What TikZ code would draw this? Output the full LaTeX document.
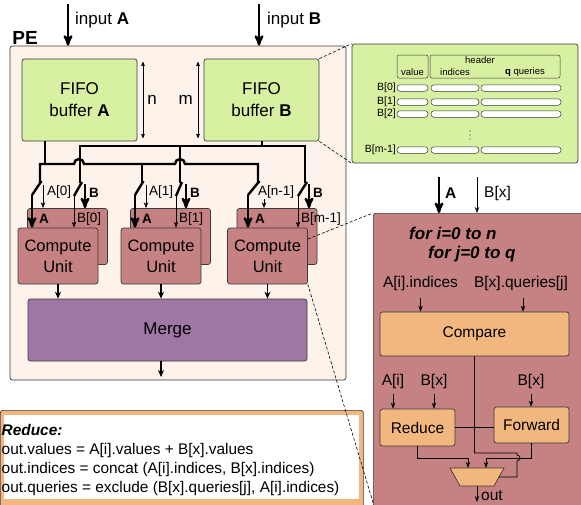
\documentclass[tikz,border=0pt]{standalone}
\usepackage{fontspec}
\setmainfont{Liberation Sans}
\usetikzlibrary{positioning,arrows,arrows.meta}

\definecolor{peback}{HTML}{FDF3EA}
\definecolor{fifogreen}{HTML}{D7F0A2}
\definecolor{cured}{HTML}{C68282}
\definecolor{mergepurple}{HTML}{9E77A5}
\definecolor{oporange}{HTML}{F1B77E}
\definecolor{edgegray}{HTML}{3A3A3A}

\tikzset{
  box/.style={draw=edgegray, rounded corners=2.5pt, line width=0.7pt, inner sep=0pt, align=center},
  fifo/.style={box, fill=fifogreen, minimum width=115pt, minimum height=82pt, font=\fontsize{17}{22}\selectfont},
  cubox/.style={box, fill=cured, minimum width=80pt, minimum height=56pt, font=\fontsize{16.5}{21}\selectfont},
  opbox/.style={box, fill=oporange, font=\fontsize{15.5}{18}\selectfont},
  pill/.style={draw=edgegray, fill=white, rounded corners=3pt, line width=0.5pt, minimum height=6.5pt, inner sep=0pt},
  hdrbox/.style={draw=edgegray, rounded corners=2pt, line width=0.5pt, minimum height=23pt, inner sep=0pt},
  wire/.style={line width=2.4pt},
  bigarrow/.style={->, line width=2.4pt},
  midarrow/.style={-{Stealth[length=7pt, width=6pt]}, line width=1.6pt},
  ptr/.style={-{Stealth[length=6pt, width=4.5pt]}, line width=0.7pt},
  lbl/.style={inner sep=0pt, font=\fontsize{13.5}{16}\selectfont},
  lblbig/.style={inner sep=0pt, font=\fontsize{17}{20}\selectfont},
  lblmid/.style={inner sep=0pt, font=\fontsize{15.5}{18}\selectfont},
  tiny/.style={inner sep=0pt, font=\fontsize{9.5}{11}\selectfont},
  zoomline/.style={dashed, dash pattern=on 3pt off 2pt, line width=0.6pt},
}

\begin{document}
\begin{tikzpicture}[x=1pt,y=-1pt,>=stealth']
\useasboundingbox (0,0) rectangle (581,504);
\clip (0,0) rectangle (581,504);

% processing element
\node[box, fill=peback, minimum width=336pt, minimum height=334pt] (pe) at (178,213) {};
\node[inner sep=0pt, font=\bfseries\fontsize{19}{20}\selectfont] (pelabel) at (25,38) {PE};

% inputs
\coordinate (inA) at (68,4);
\coordinate (inB) at (259,4);
\draw[bigarrow] (inA) -- (inA |- pe.north);
\draw[bigarrow] (inB) -- (inB |- pe.north);
\node[lblbig, anchor=west] (inAlabel) at (75,20) {input \textbf{A}};
\node[lblbig, anchor=west] (inBlabel) at (267,20) {input \textbf{B}};

% fifo buffers
\node[fifo] (fifoA) at (79.5,100) {FIFO\\buffer \textbf{A}};
\node[fifo] (fifoB) at (261.5,100) {FIFO\\buffer \textbf{B}};
\draw[<->, line width=0.6pt] (143,62) -- (143,138) node[midway, right=4pt, lblbig] (nlabel) {n};
\draw[<->, line width=0.6pt] (198,62) -- (198,138) node[midway, left=5pt, lblbig] (mlabel) {m};

% layout of buffer B
\node[box, fill=fifogreen, minimum width=226pt, minimum height=119pt] (bufmap) at (465,103.5) {};
\node[hdrbox, minimum width=31pt] (valhdr) at (412.5,66.5) {};
\node[hdrbox, minimum width=130pt] (hdr) at (495,66.5) {};
\node[tiny] (valtxt) at (412.5,72) {value};
\node[tiny] (hdrtxt) at (480,60) {header};
\node[tiny] (idxtxt) at (455,72) {indices};
\node[tiny] (qrytxt) at (525,72) {\textbf{q} queries};
\foreach \r/\lab in {88/B[0], 102/B[1], 114/B[2], 150/B[m-1]} {
  \node[inner sep=0pt, font=\fontsize{10.5}{12}\selectfont, anchor=east] (row\r) at (396,\r) {\lab};
  \node[pill, minimum width=31pt] (val\r) at (412.5,\r) {};
  \node[pill, minimum width=48pt] (idx\r) at (455,\r) {};
  \node[pill, minimum width=80pt] (qry\r) at (521,\r) {};
}
% more rows
\foreach \d in {131,135,139} \fill[edgegray] (470,\d) circle (0.6pt);
\draw[zoomline] (fifoB.north east) -- (bufmap.north west);
\draw[zoomline] (fifoB.south east) -- (bufmap.south west);

% buses from the buffers
\coordinate (aTap) at ([xshift=-34.5pt]fifoA.south);
\coordinate (bTap) at ([xshift=0.5pt]fifoB.south);
\draw[wire] (aTap) -- ++(0,23);
\draw[wire] (bTap) -- ++(0,5);
\draw[wire] (80,183) -- (80,146) -- (305,146) -- (305,183);
\draw[wire] (180,146) -- (180,183);
\draw[wire] (40,183) -- (40,164) -- (74,164) arc[start angle=180, end angle=0, radius=5pt]
  -- (175,164) arc[start angle=180, end angle=0, radius=5pt] -- (258,164) -- (258,183);
\draw[wire] (142,164) -- (142,183);

% merge stage
\node[box, fill=mergepurple, minimum width=279pt, minimum height=62pt, font=\fontsize{17}{20}\selectfont] (merge) at (167.5,330) {Merge};
\coordinate (peout) at (161,377);
\draw[midarrow] (merge.south -| peout) -- (peout);

% compute units with their switches
\foreach \k/\fx/\xa/\ta/\na/\ny/\lx/\xb/\tb/\nb/\ia/\ib in
  {0/58/40/32/43/185/47/80/85/74/0/0, 1/161/142/135/146/185/149/180/186/176/1/1,
   2/267.5/258/248/264/199/258/305/309/298/n-1/m-1} {
  \node[cubox] (cuback\k) at ({\fx+9.5},236.5) {};
  \node[cubox] (cu\k) at (\fx,256) {Compute\\Unit};
  % A side
  \coordinate (ablade\k) at (\ta,195);
  \coordinate (aidx\k) at (\na,\ny);
  \draw[wire] ({\xa+1.5},181) -- (ablade\k);
  \draw[bigarrow] (ablade\k) -- (ablade\k |- cu\k.north);
  \draw[ptr] (aidx\k) -- (aidx\k |- cuback\k.north);
  \node[lbl, anchor=west] (alab\k) at (\lx,192) {A[\ia]};
  \node[lbl, anchor=west, font=\bfseries\fontsize{13.5}{16}\selectfont] (atag\k) at ({\ta+7},219) {A};
  % B side
  \coordinate (bblade\k) at (\nb,196);
  \coordinate (bout\k) at (\tb,184);
  \draw[wire] ({\xb+2},182) -- (bblade\k);
  \draw[bigarrow] (bout\k) -- (bout\k |- cuback\k.north);
  \draw[ptr] (bblade\k) -- (bblade\k |- cu\k.north);
  \node[lbl, anchor=west, font=\bfseries\fontsize{13.5}{16}\selectfont] (btag\k) at ({\tb+4},193) {B};
  \node[lbl, anchor=west] (blab\k) at ({\nb+3},219) {B[\ib]};
  \draw[midarrow] (cu\k.south) -- (cu\k.south |- merge.north);
}

% reduce rule
\node[box, fill=oporange, minimum width=363pt, minimum height=100pt, anchor=north west] (reducebox) at (0,410) {};
\node[fill=white, minimum width=355pt, minimum height=84pt, inner sep=0pt, anchor=north west] (reducepane) at (4,415) {};
\node[inner sep=0pt, anchor=north west, align=left, font=\fontsize{15.4}{19}\selectfont] (reducetxt) at (1.5,424)
  {\textbf{\textit{Reduce:}}\\
   out.values = A[i].values + B[x].values\\
   out.indices = concat (A[i].indices, B[x].indices)\\
   out.queries = exclude (B[x].queries[j], A[i].indices)};

% inside a compute unit
\node[box, fill=cured, minimum width=230pt, minimum height=310pt, anchor=north west] (cudetail) at (373,213) {};
\coordinate (cuinA) at (439,177);
\coordinate (cuinB) at (477,177);
\draw[bigarrow] (cuinA) -- (cuinA |- cudetail.north);
\draw[ptr] (cuinB) -- (cuinB |- cudetail.north);
\node[lblmid, anchor=west, font=\bfseries\fontsize{15.5}{18}\selectfont] (cuinAlabel) at (445,193) {A};
\node[lblmid, anchor=west] (cuinBlabel) at (484,193) {B[x]};
\node[lblbig, anchor=west, font=\bfseries\itshape\fontsize{17}{20}\selectfont] (loopi) at (409,233) {for i=0 to n};
\node[lblbig, anchor=west, font=\bfseries\itshape\fontsize{17}{20}\selectfont] (loopj) at (428,254) {for j=0 to q};

\node[opbox, minimum width=189pt, minimum height=44pt] (compare) at (474.5,334) {Compare};
\node[lblmid] (cmpin1) at (420.5,283) {A[i].indices};
\node[lblmid] (cmpin2) at (521,283) {B[x].queries[j]};
\draw[ptr] ([yshift=-8pt]cmpin1.south) -- (cmpin1.south |- compare.north);
\draw[ptr] ([yshift=-8pt,xshift=2pt]cmpin2.south) -- ([xshift=2pt]cmpin2.south |- compare.north);

\node[opbox, minimum width=75pt, minimum height=37pt] (reduce) at (417.5,427.5) {Reduce};
\node[opbox, minimum width=75pt, minimum height=36pt] (forward) at (531.5,425) {Forward};
\node[lblmid] (redin1) at (393,381) {A[i]};
\node[lblmid] (redin2) at (434,381) {B[x]};
\node[lblmid] (fwdin) at (531,381) {B[x]};
\draw[ptr] ([yshift=-6pt]redin1.south) -- (redin1.south |- reduce.north);
\draw[ptr] ([yshift=-6pt]redin2.south) -- (redin2.south |- reduce.north);
\draw[ptr] ([yshift=-6pt]fwdin.south) -- (fwdin.south |- forward.north);
\draw[line width=0.7pt] (reduce.east) -- (reduce.east -| forward.west);

% output multiplexer
\coordinate (muxtop) at (477,468);
\coordinate (muxsel) at (499,477);
\coordinate (muxbot) at (477,486);
\draw[fill=oporange, draw=edgegray, line width=0.7pt] (450,468) -- (504,468) -- (494,486) -- (460,486) -- cycle;
\coordinate (redjoin) at (468,458);
\coordinate (fwdjoin) at (486,458);
\coordinate (selturn) at (517,453);
\draw[ptr] (reduce.south) |- (redjoin) -- (redjoin |- muxtop);
\draw[ptr] (forward.south) |- (fwdjoin) -- (fwdjoin |- muxtop);
\draw[line width=0.7pt] (compare.south) |- (selturn) -- ++(0,2) arc[start angle=90, end angle=-90, radius=3pt]
  -- (selturn |- muxsel) -- (muxsel);
\coordinate (cuout) at (477,502);
\draw[ptr] (muxbot) -- (cuout);
\node[lblmid, anchor=west] (outlabel) at (481,496) {out};

% zoom from the last compute unit
\coordinate (cutail) at (374,506);
\draw[zoomline] ([yshift=17pt]cu2.east) -- (cudetail.north west);
\draw[zoomline] (cu2.south east) -- (cutail);
\end{tikzpicture}
\end{document}
